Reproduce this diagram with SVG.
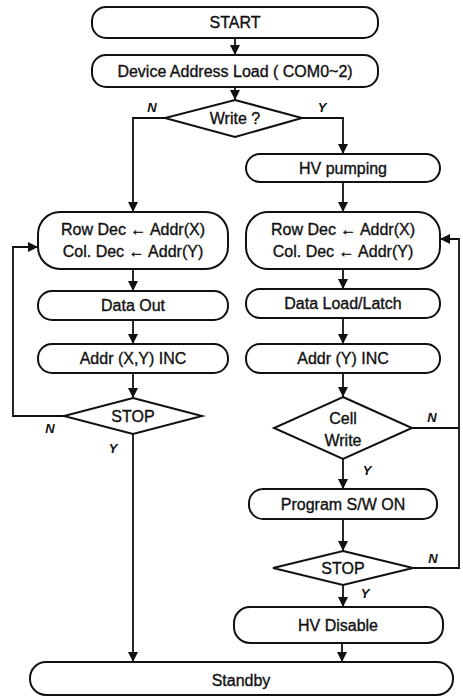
<svg xmlns="http://www.w3.org/2000/svg" width="463" height="696" viewBox="0 0 463 696">
<defs>
<marker id="ah" markerUnits="userSpaceOnUse" markerWidth="10" markerHeight="11" refX="10" refY="5" orient="auto">
<path d="M0,0 L10,5 L0,10 z" fill="#111"/>
</marker>
<style>
.box{fill:#fff;stroke:#111;stroke-width:2}
.t{font-family:"Liberation Sans",Arial,sans-serif;font-size:16px;fill:#111;stroke:#111;stroke-width:0.35;text-anchor:middle}
.lb{font-family:"Liberation Sans",Arial,sans-serif;font-size:13px;font-weight:bold;font-style:italic;fill:#111;text-anchor:middle}
.c{fill:none;stroke:#111;stroke-width:1.8}
</style>
</defs>
<rect width="463" height="696" fill="#fff"/>
<g id="connectors">
<path class="c" d="M235,38 V55" marker-end="url(#ah)"/>
<path class="c" d="M235,87 V100" marker-end="url(#ah)"/>
<path class="c" d="M165,118 H133 V212" marker-end="url(#ah)"/>
<path class="c" d="M302,118 H343 V154" marker-end="url(#ah)"/>
<path class="c" d="M133,269 V291" marker-end="url(#ah)"/>
<path class="c" d="M133,320 V344" marker-end="url(#ah)"/>
<path class="c" d="M133,373 V398" marker-end="url(#ah)"/>
<path class="c" d="M64,416 H13 V247 H38" marker-end="url(#ah)"/>
<path class="c" d="M133,434 V662" marker-end="url(#ah)"/>
<path class="c" d="M343,182 V212" marker-end="url(#ah)"/>
<path class="c" d="M343,269 V289" marker-end="url(#ah)"/>
<path class="c" d="M343,318 V344" marker-end="url(#ah)"/>
<path class="c" d="M343,373 V397" marker-end="url(#ah)"/>
<path class="c" d="M412,428 H459"/>
<path class="c" d="M343,459 V489" marker-end="url(#ah)"/>
<path class="c" d="M343,519 V551" marker-end="url(#ah)"/>
<path class="c" d="M413,568 H459 V239 H440" marker-end="url(#ah)"/>
<path class="c" d="M343,585 V607" marker-end="url(#ah)"/>
<path class="c" d="M342,643 V662" marker-end="url(#ah)"/>
<text class="lb" x="152" y="112">N</text>
<text class="lb" x="322" y="112">Y</text>
<text class="lb" x="50" y="433">N</text>
<text class="lb" x="113" y="453">Y</text>
<text class="lb" x="432" y="422">N</text>
<text class="lb" x="367" y="475">Y</text>
<text class="lb" x="433" y="563">N</text>
<text class="lb" x="365" y="598">Y</text>
</g>
<g id="start"><rect class="box" x="92" y="7" width="286" height="31" rx="14"/><text class="t" x="235" y="28">START</text></g>
<g id="device"><rect class="box" x="92" y="55" width="286" height="32" rx="14"/><text class="t" x="235" y="77">Device Address Load ( COM0~2)</text></g>
<g id="write"><polygon class="box" points="235,100 302,118 235,137 165,118"/><text class="t" x="235" y="124">Write ?</text></g>
<g id="rowdec-left"><rect class="box" x="38" y="212" width="190" height="57" rx="22"/><text class="t" x="133" y="235">Row Dec ← Addr(X)</text><text class="t" x="133" y="257">Col. Dec ← Addr(Y)</text></g>
<g id="dataout"><rect class="box" x="38" y="291" width="190" height="29" rx="14"/><text class="t" x="133" y="311">Data Out</text></g>
<g id="addrxy"><rect class="box" x="38" y="344" width="190" height="29" rx="14"/><text class="t" x="133" y="364">Addr (X,Y) INC</text></g>
<g id="stop-left"><polygon class="box" points="133,398 202,416 133,434 64,416"/><text class="t" x="133" y="422">STOP</text></g>
<g id="hvpump"><rect class="box" x="246" y="154" width="194" height="28" rx="14"/><text class="t" x="343" y="174">HV pumping</text></g>
<g id="rowdec-right"><rect class="box" x="246" y="212" width="194" height="57" rx="22"/><text class="t" x="343" y="235">Row Dec ← Addr(X)</text><text class="t" x="343" y="257">Col. Dec ← Addr(Y)</text></g>
<g id="dataload"><rect class="box" x="246" y="289" width="194" height="29" rx="14"/><text class="t" x="343" y="309">Data Load/Latch</text></g>
<g id="addry"><rect class="box" x="246" y="344" width="194" height="29" rx="14"/><text class="t" x="343" y="364">Addr (Y) INC</text></g>
<g id="cellwrite"><polygon class="box" points="343,397 412,428 343,459 274,428"/><text class="t" x="343" y="424">Cell</text><text class="t" x="343" y="446">Write</text></g>
<g id="program"><rect class="box" x="249" y="489" width="188" height="30" rx="14"/><text class="t" x="343" y="510">Program S/W ON</text></g>
<g id="stop-right"><polygon class="box" points="343,551 413,568 343,585 273,568"/><text class="t" x="343" y="574">STOP</text></g>
<g id="hvdisable"><rect class="box" x="234" y="607" width="209" height="36" rx="16"/><text class="t" x="338" y="631">HV Disable</text></g>
<g id="standby"><rect class="box" x="30" y="662" width="423" height="33" rx="16"/><text class="t" x="241" y="686">Standby</text></g>
</svg>
